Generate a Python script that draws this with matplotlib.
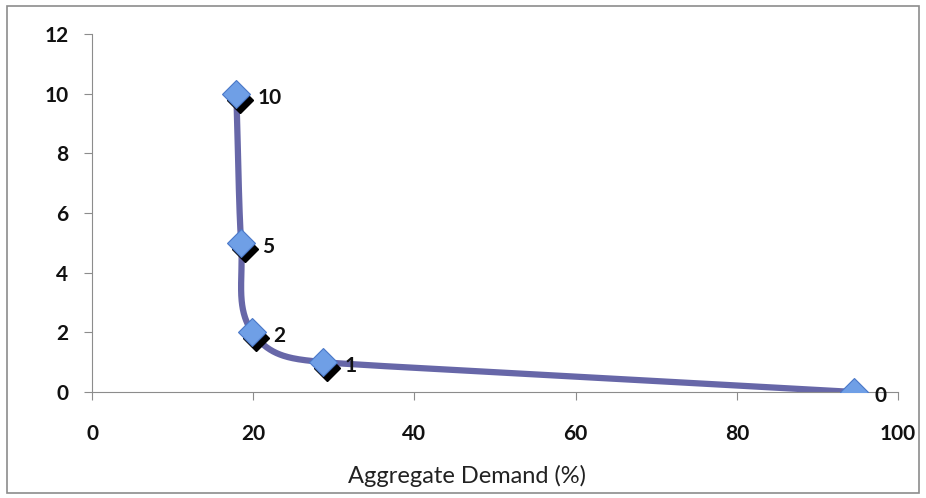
import matplotlib.pyplot as plt
import matplotlib.transforms as mtransforms
import numpy as np

# values
demand = [94.5, 28.7, 19.9, 18.5, 17.9]
level = [0, 1, 2, 5, 10]
point_labels = ["0", "1", "2", "5", "10"]
x_ticks = [0, 20, 40, 60, 80, 100]
y_ticks = [0, 2, 4, 6, 8, 10, 12]


def smooth(xs, ys, sx, sy, k=0.4, steps=80):
    # cubic Bezier through the points, arms limited by the shorter neighbour segment
    p = np.column_stack([np.array(xs) * sx, np.array(ys) * sy]).astype(float)
    n = len(p)
    tang = np.zeros_like(p)
    arm = np.zeros(n)
    for i in range(n):
        if i == 0:
            d = p[1] - p[0]
            L = np.linalg.norm(d)
        elif i == n - 1:
            d = p[-1] - p[-2]
            L = np.linalg.norm(d)
        else:
            d = p[i + 1] - p[i - 1]
            L = min(np.linalg.norm(p[i + 1] - p[i]), np.linalg.norm(p[i] - p[i - 1]))
        tang[i] = d / np.linalg.norm(d)
        arm[i] = L * k
    t = np.linspace(0, 1, steps)[:, None]
    out = []
    for i in range(n - 1):
        a, b = p[i], p[i + 1]
        c1 = a + tang[i] * arm[i]
        c2 = b - tang[i + 1] * arm[i + 1]
        out.append((1 - t) ** 3 * a + 3 * (1 - t) ** 2 * t * c1 + 3 * (1 - t) * t ** 2 * c2 + t ** 3 * b)
    out = np.vstack(out)
    return out[:, 0] / sx, out[:, 1] / sy


plt.rcParams['font.family'] = ['Lato', 'DejaVu Sans']

fig = plt.figure(figsize=(9.26, 4.98), dpi=100)
ax = fig.add_axes([0.0994, 0.2129, 0.8704, 0.7188])

# outer chart border
fig.patches.append(plt.Rectangle((0.0075, 0.01), 0.985, 0.978, transform=fig.transFigure,
                                 fill=False, edgecolor='#8c8c8c', linewidth=1.2))

cx, cy = smooth(demand, level, 8.06, 29.8)
ax.plot(cx, cy, color='#6767a8', linewidth=4.5, solid_capstyle='round', zorder=2)

shadow = mtransforms.offset_copy(ax.transData, fig=fig, x=4, y=-6, units='dots')
ax.plot(demand, level, linestyle='none', marker='D', markersize=13, color='black',
        transform=shadow, zorder=3)
ax.plot(demand, level, linestyle='none', marker='D', markersize=14,
        markerfacecolor='#6f9fe6', markeredgecolor='#4a78c8', markeredgewidth=0.8, zorder=4)

for x, y, t in zip(demand, level, point_labels):
    ax.annotate(t, (x, y), xytext=(15, -3), textcoords='offset points', fontsize=15,
                fontweight='bold', va='center', ha='left', color='#111111')

ax.set_xlim(0, 100)
ax.set_ylim(0, 12)
ax.set_xticks(x_ticks)
ax.set_yticks(y_ticks)
for s in ['top', 'right']:
    ax.spines[s].set_visible(False)
for s in ['left', 'bottom']:
    ax.spines[s].set_color('#8c8c8c')
ax.tick_params(colors='#8c8c8c', length=6, labelsize=15, labelcolor='#111111')
for lab in ax.get_xticklabels() + ax.get_yticklabels():
    lab.set_fontweight('bold')
ax.tick_params(axis='y', pad=11)
ax.tick_params(axis='x', pad=17)
ax.set_xlabel("Aggregate Demand (%)", fontsize=17, color='#222222')
ax.xaxis.set_label_coords(0.465, -0.205)

fig.savefig("out.png", dpi=100)
